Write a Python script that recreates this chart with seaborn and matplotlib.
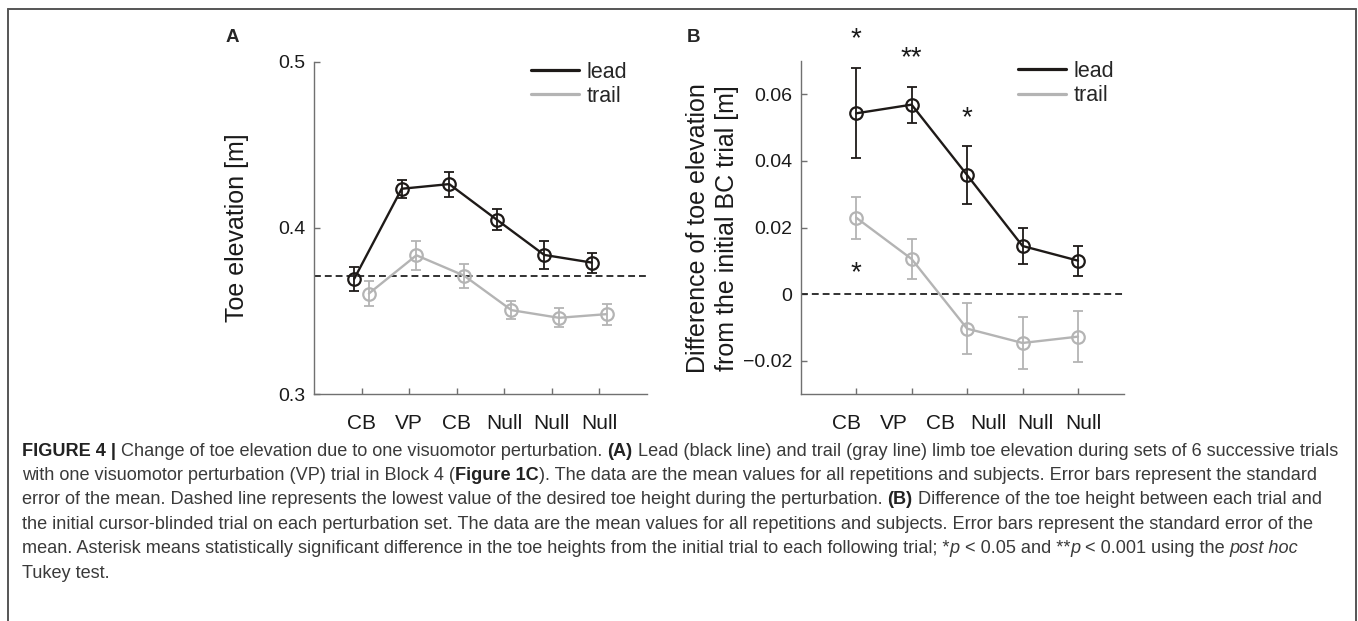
import numpy as np
import pandas as pd
import matplotlib
matplotlib.use("Agg")
import matplotlib.pyplot as plt
import seaborn as sns
from matplotlib.lines import Line2D

# --- data ---
trials = ["CB", "VP", "CB", "Null", "Null", "Null"]
limbs = ["lead", "trail"]

# panel A: toe elevation [m]
lead_a = [0.3694, 0.4236, 0.4264, 0.4050, 0.3838, 0.3792]
lead_a_err = [0.0070, 0.0055, 0.0075, 0.0062, 0.0085, 0.0060]
trail_a = [0.3606, 0.3836, 0.3714, 0.3506, 0.3460, 0.3482]
trail_a_err = [0.0078, 0.0086, 0.0072, 0.0055, 0.0058, 0.0063]
desired_toe = 0.371

# panel B: difference from the initial BC trial [m]
lead_b = [0.0543, 0.0569, 0.0358, 0.0145, 0.0101]
lead_b_err = [0.0135, 0.0054, 0.0086, 0.0054, 0.0045]
trail_b = [0.0230, 0.0106, -0.0103, -0.0146, -0.0127]
trail_b_err = [0.0063, 0.0059, 0.0077, 0.0078, 0.0077]

# significance marks in B: trial, height (baseline), text
star_x = [1, 2, 3, 1]
star_y = [0.0743, 0.0688, 0.0508, 0.0042]
star_txt = ["*", "**", "*", "*"]

yticks_a = [0.3, 0.4, 0.5]
yticks_b = [-0.02, 0, 0.02, 0.04, 0.06]
ytick_labels_b = ["\u22120.02", "0", "0.02", "0.04", "0.06"]

caption = [
    [("FIGURE 4 | ", "bold"),
     ("Change of toe elevation due to one visuomotor perturbation. ", "normal"),
     ("(A)", "bold"),
     (" Lead (black line) and trail (gray line) limb toe elevation during sets of 6 successive trials", "normal")],
    [("with one visuomotor perturbation (VP) trial in Block 4 (", "normal"),
     ("Figure 1C", "bold"),
     ("). The data are the mean values for all repetitions and subjects. Error bars represent the standard", "normal")],
    [("error of the mean. Dashed line represents the lowest value of the desired toe height during the perturbation. ", "normal"),
     ("(B)", "bold"),
     (" Difference of the toe height between each trial and", "normal")],
    [("the initial cursor-blinded trial on each perturbation set. The data are the mean values for all repetitions and subjects. Error bars represent the standard error of the", "normal")],
    [("mean. Asterisk means statistically significant difference in the toe heights from the initial trial to each following trial; *", "normal"),
     ("p", "italic"), (" < 0.05 and **", "normal"), ("p", "italic"),
     (" < 0.001 using the ", "normal"), ("post hoc", "italic")],
    [("Tukey test.", "normal")],
]

colors = {"lead": "#1e1a18", "trail": "#b4b4b4"}

sns.set_theme(style="white")
plt.rcParams["font.family"] = ["Liberation Sans", "DejaVu Sans"]

W, H = 1358, 621
fig = plt.figure(figsize=(W / 100, H / 100), dpi=100)


def px_axes(left, top, right, bottom):
    return fig.add_axes([left / W, 1 - bottom / H, (right - left) / W, (bottom - top) / H])


ax_a = px_axes(314, 61.7, 646.7, 394.3)
ax_b = px_axes(800.7, 61, 1124, 394.3)


def draw_series(ax, x, y, err, color):
    ax.errorbar(x, y, yerr=err, fmt="none", ecolor=color, elinewidth=1.3,
                capsize=3.8, capthick=1.3, zorder=2)
    sns.lineplot(x=x, y=y, ax=ax, color=color, linewidth=1.7, marker="o",
                 markersize=9, markerfacecolor="none", markeredgecolor=color,
                 markeredgewidth=1.6, errorbar=None, zorder=3)


def style_axes(ax):
    sns.despine(ax=ax)
    for s in ["left", "bottom"]:
        ax.spines[s].set_color("#707070")
        ax.spines[s].set_linewidth(1.0)
    ax.tick_params(bottom=True, left=True, direction="in", length=4, width=1,
                   color="#707070", labelsize=14, labelcolor="#1a1a1a")
    ax.tick_params(axis="y", pad=6)
    ax.tick_params(axis="x", pad=14, labelsize=15)


# panel A
pos = np.arange(1, len(trials) + 1)
draw_series(ax_a, pos - 0.155, lead_a, lead_a_err, colors["lead"])
draw_series(ax_a, pos + 0.155, trail_a, trail_a_err, colors["trail"])
ax_a.axhline(desired_toe, color="#222222", lw=1.3, ls=(0, (3.8, 2.2)), zorder=1)
ax_a.set_xlim(0, 7)
ax_a.set_ylim(0.3, 0.5)
ax_a.set_xticks(pos)
ax_a.set_xticklabels(trials)
ax_a.set_yticks(yticks_a)
ax_a.set_yticklabels([f"{v:.1f}" for v in yticks_a])
ax_a.set_xlabel("")
ax_a.set_ylabel("Toe elevation [m]", fontsize=18, labelpad=21, color="#1a1a1a")
style_axes(ax_a)

# panel B
pos_b = np.arange(1, len(lead_b) + 1)
draw_series(ax_b, pos_b, lead_b, lead_b_err, colors["lead"])
draw_series(ax_b, pos_b, trail_b, trail_b_err, colors["trail"])
ax_b.axhline(0, color="#222222", lw=1.3, ls=(0, (3.8, 2.2)), zorder=1)
ax_b.set_xlim(0, 5.83)
ax_b.set_ylim(-0.03, 0.07)
ax_b.set_xticks(pos_b)
ax_b.set_xticklabels([])
ax_b.set_yticks(yticks_b)
ax_b.set_yticklabels(ytick_labels_b)
ax_b.set_xlabel("")
ax_b.set_ylabel("Difference of toe elevation\nfrom the initial BC trial [m]",
                fontsize=18, labelpad=3, linespacing=1.25, color="#1a1a1a")
style_axes(ax_b)
for sx, sy, st in zip(star_x, star_y, star_txt):
    ax_b.text(sx, sy, st, ha="center", va="baseline", fontsize=20,
              color="#1a1a1a", clip_on=False)

# the trial labels under B are copied from A, so they sit on A's spacing
tw = ax_b.twiny()
tw.set_xlim(0.044, 6.865)
tw.set_xticks(pos)
tw.set_xticklabels(trials)
tw.xaxis.set_ticks_position("bottom")
tw.tick_params(axis="x", length=0, pad=14, labelsize=15, labelcolor="#1a1a1a")
for s in tw.spines.values():
    s.set_visible(False)

# legends
for ax, x0 in [(ax_a, 0.652), (ax_b, 0.672)]:
    handles = [Line2D([], [], color=colors[k], lw=2.3) for k in limbs]
    ax.legend(handles, limbs, loc="upper left", bbox_to_anchor=(x0, 1.0),
              frameon=False, fontsize=15.5, handlelength=2.25,
              handletextpad=0.35, labelspacing=0.15, borderpad=0,
              borderaxespad=0)

# panel letters
fig.text(226 / W, 1 - 42.3 / H, "A", fontsize=13.5, fontweight="bold", va="baseline")
fig.text(686.7 / W, 1 - 42.3 / H, "B", fontsize=13.5, fontweight="bold", va="baseline")

# frame around the figure
frame_kw = dict(transform=fig.transFigure, color="#555555", lw=1.4)
fig.add_artist(Line2D([8 / W, 1355.5 / W], [1 - 8.5 / H] * 2, **frame_kw))
fig.add_artist(Line2D([8 / W] * 2, [0, 1 - 8.5 / H], **frame_kw))
fig.add_artist(Line2D([1355.5 / W] * 2, [0, 1 - 8.5 / H], **frame_kw))

# caption with mixed bold / italic runs
cap_family = ["Liberation Sans Narrow", "Liberation Sans", "DejaVu Sans"]
style_kw = {"normal": {}, "bold": {"fontweight": "bold"}, "italic": {"fontstyle": "italic"}}
renderer = fig.canvas.get_renderer()


def text_width(s, size, style):
    t = fig.text(0, 0, s, fontsize=size, family=cap_family, **style_kw[style])
    w = t.get_window_extent(renderer=renderer).width
    t.remove()
    return w


def space_width(size, style):
    return text_width("n n", size, style) - text_width("nn", size, style)


def draw_line(y_px, segments, size, draw=True):
    x = 22.0
    for s, style in segments:
        if s.startswith(" "):
            x += space_width(size, style)
        core = s.strip()
        if draw:
            fig.text(x / W, 1 - y_px / H, core, fontsize=size, family=cap_family,
                     va="center", ha="left",
                     color="#222222" if style == "bold" else "#3a3a3a",
                     **style_kw[style])
        x += text_width(core, size, style)
        if s.endswith(" "):
            x += space_width(size, style)
    return x


# fit the caption size so the first line spans the box like in the figure
trial_size = 12
end = draw_line(0, caption[0], trial_size, draw=False)
cap_size = trial_size * (1345 - 22) / (end - 22)

for i, segs in enumerate(caption):
    draw_line(451 + i * 24.4, segs, cap_size)

fig.savefig("out.png", dpi=100)
